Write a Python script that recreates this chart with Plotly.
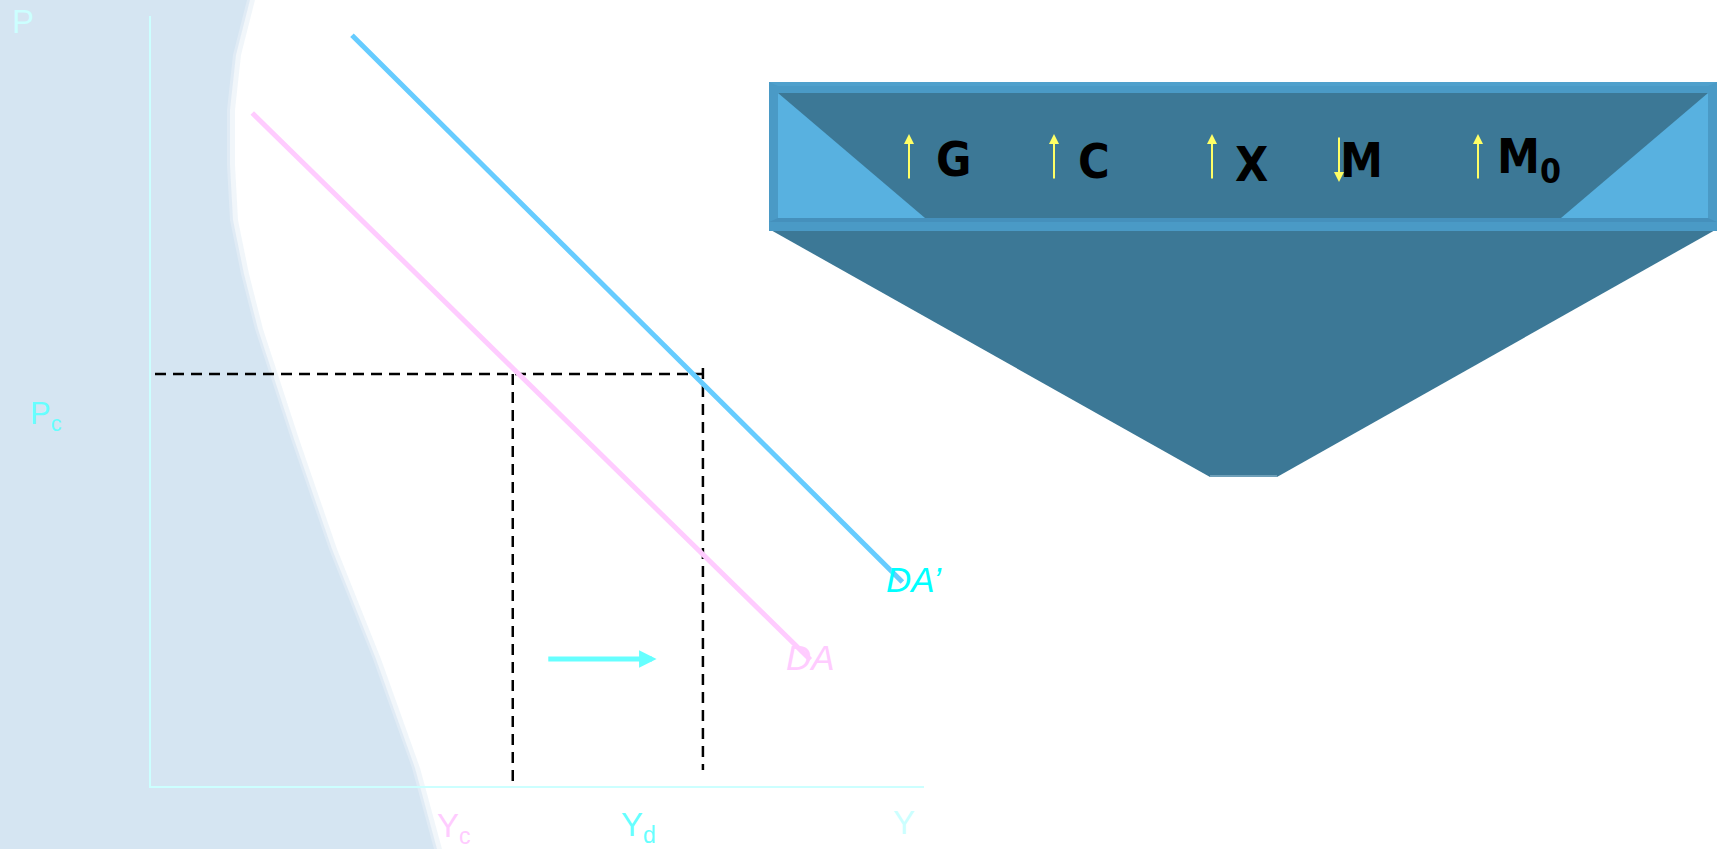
import plotly.graph_objects as go

# ---------------- data (economic diagram values, axis units 0..10) ----------------
curve_names = ["DA", "DA’"]
da_output = [1.31, 8.53]        # Y along DA
da_price = [8.74, 1.64]         # P along DA
da2_output = [2.60, 9.72]       # Y along DA'
da2_price = [9.75, 2.65]        # P along DA'
price_c = 5.35                  # Pc
output_c = 4.68                 # Yc
output_d = 7.14                 # Yd
shift_from = 5.12               # horizontal shift arrow (Y units)
shift_to = 6.54
shift_level = 1.65
funnel_labels = ["G", "C", "X", "M", "M<sub>0</sub>"]
funnel_dirs = ["up", "up", "up", "down", "up"]
axis_labels = ["P", "P<sub>c</sub>", "Y<sub>c</sub>", "Y<sub>d</sub>", "Y"]

# ---------------- layout / styling ----------------
W, H = 1721, 849
X0, X1 = 151, 924     # pixel extent of x axis
Y0, Y1 = 786, 16      # pixel extent of y axis (bottom, top)


def pp(x, y):
    """pixel -> paper"""
    return x / W, 1 - y / H


def dx(px):
    return (px - X0) / (X1 - X0) * 10


def dy(py):
    return (Y0 - py) / (Y0 - Y1) * 10


fig = go.Figure()

# dashed guide lines
dash_style = dict(color="black", width=2.5, dash="11px,7px")
fig.add_trace(go.Scatter(x=[dx(155), output_d], y=[price_c, price_c], mode="lines",
                         line=dash_style, hoverinfo="skip", showlegend=False))
fig.add_trace(go.Scatter(x=[output_c, output_c], y=[price_c, dy(781)], mode="lines",
                         line=dash_style, hoverinfo="skip", showlegend=False))
fig.add_trace(go.Scatter(x=[output_d, output_d], y=[dy(368), dy(770)], mode="lines",
                         line=dash_style, hoverinfo="skip", showlegend=False))

# demand curves
fig.add_trace(go.Scatter(x=da_output, y=da_price, mode="lines", name=curve_names[0],
                         line=dict(color="#FFCCFF", width=5), showlegend=False))
fig.add_trace(go.Scatter(x=da2_output, y=da2_price, mode="lines", name=curve_names[1],
                         line=dict(color="#66CCFF", width=5), showlegend=False))

shapes = []
# left light-blue background with curved edge
edge = [(247, 0), (233, 55), (227, 110), (227, 165), (230, 220), (241, 274),
        (255, 329), (291, 439), (329, 549), (373, 659), (412, 768), (434, 849)]


def bg_path(off):
    pts = [pp(x + off, y) for x, y in edge]
    s = f"M {pp(0,0)[0]},{pp(0,0)[1]} "
    s += " ".join(f"L {a},{b}" for a, b in pts)
    s += f" L {pp(0,H)[0]},{pp(0,H)[1]} Z"
    return s


shapes.append(dict(type="path", path=bg_path(8), xref="paper", yref="paper",
                   fillcolor="rgba(214,229,242,0.35)", line=dict(width=0), layer="below"))
shapes.append(dict(type="path", path=bg_path(3), xref="paper", yref="paper",
                   fillcolor="rgba(214,229,242,0.6)", line=dict(width=0), layer="below"))
shapes.append(dict(type="path", path=bg_path(0), xref="paper", yref="paper",
                   fillcolor="#D5E5F2", line=dict(width=0), layer="below"))


def poly(points, color):
    pts = [pp(x, y) for x, y in points]
    s = f"M {pts[0][0]},{pts[0][1]} " + " ".join(f"L {a},{b}" for a, b in pts[1:]) + " Z"
    return dict(type="path", path=s, xref="paper", yref="paper", fillcolor=color,
                line=dict(width=0), layer="above")


# funnel hopper
shapes.append(poly([(769, 229), (1717, 229), (1277, 477), (1210, 477)], "#3C7896"))
shapes.append(poly([(1210, 475), (1277, 475), (1277, 477), (1210, 477)], "#6E9FB8"))
# funnel box
shapes.append(poly([(769, 82), (1717, 82), (1717, 231), (769, 231)], "#4A9AC6"))
shapes.append(poly([(778, 93), (1708, 93), (1708, 218), (778, 218)], "#58B1E0"))
shapes.append(poly([(778, 93), (1708, 93), (1561, 218), (925, 218)], "#3C7896"))
shapes.append(poly([(778, 218), (1708, 218), (1717, 222), (769, 222)], "#4590BC"))
shapes.append(poly([(769, 82), (1717, 82), (1708, 86), (778, 86)], "#4FA0CC"))

annotations = []


def label(text, left, baseline, size, color, italic=False, family="Liberation Sans, Arial",
          bold=False):
    x, y = pp(left, baseline - 0.36 * size)
    if bold:
        text = f"<b>{text}</b>"
    if italic:
        text = f"<i>{text}</i>"
    annotations.append(dict(text=text, x=x, y=y, xref="paper", yref="paper",
                            xanchor="left", yanchor="middle", showarrow=False,
                            font=dict(size=size, color=color, family=family)))


# axis labels
label_pos = [(10, 33, 33, "#CCFFFF"), (28, 427, 31, "#66FFFF"), (435, 840, 33, "#FFCCFF"),
             (619, 839, 33, "#66FFFF"), (891, 834, 33, "#CCFFFF")]
for t, (lx, ly, sz, col) in zip(axis_labels, label_pos):
    label(t, lx, ly, sz, col)

# curve labels
label(curve_names[1], 884, 592, 35, "#00FFFF", italic=True)
label(curve_names[0], 784, 670, 35, "#FFCCFF", italic=True)

# funnel labels and arrows
funnel_text_pos = [(934, 176), (1076, 178), (1233, 181), (1338, 177), (1495, 177)]
funnel_arrow_x = [909, 1054, 1212, 1339, 1478]
narrow = "Liberation Sans Narrow, DejaVu Sans Condensed, Arial Narrow, Liberation Sans"
for t, d, (lx, ly), axp in zip(funnel_labels, funnel_dirs, funnel_text_pos, funnel_arrow_x):
    label(t, lx, ly, 48, "black", family=narrow, bold=True)
    if d == "up":
        hx, hy = pp(axp, 134)
        off = 46
    else:
        hx, hy = pp(axp, 182)
        off = -46
    annotations.append(dict(x=hx, y=hy, xref="paper", yref="paper", ax=0, ay=off,
                            axref="pixel", ayref="pixel", text="", showarrow=True,
                            arrowhead=2, arrowsize=1.0, arrowwidth=2, arrowcolor="#FFFF66"))

# shift arrow (DA -> DA')
annotations.append(dict(x=shift_to, y=shift_level, xref="x", yref="y",
                        ax=shift_from, ay=shift_level, axref="x", ayref="y", text="",
                        showarrow=True, arrowhead=2, arrowsize=0.7, arrowwidth=5,
                        arrowcolor="#66FFFF"))

fig.update_layout(
    width=W, height=H,
    margin=dict(l=0, r=0, t=0, b=0),
    paper_bgcolor="white",
    plot_bgcolor="rgba(0,0,0,0)",
    shapes=shapes,
    annotations=annotations,
    showlegend=False,
    xaxis=dict(domain=[X0 / W, X1 / W], range=[0, 10], showgrid=False, zeroline=False,
               showticklabels=False, ticks="", showline=True, linecolor="#CCFFFF",
               linewidth=2),
    yaxis=dict(domain=[1 - Y0 / H, 1 - Y1 / H], range=[0, 10], showgrid=False,
               zeroline=False, showticklabels=False, ticks="", showline=True,
               linecolor="#CCFFFF", linewidth=2),
)

fig.write_html("out.html",
               config={"displayModeBar": False},
               post_script="document.body.style.margin='0px';"
                           "document.body.style.overflow='hidden';")
